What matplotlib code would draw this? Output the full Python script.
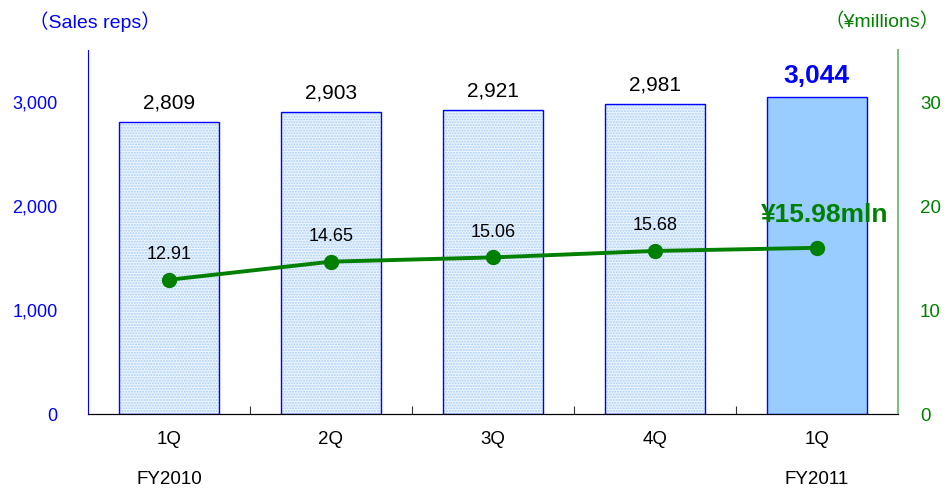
import matplotlib
matplotlib.use("Agg")
import matplotlib.pyplot as plt
import numpy as np

plt.rcParams["font.family"] = ["Liberation Sans", "Noto Sans CJK JP"]

quarters = ["1Q", "2Q", "3Q", "4Q", "1Q"]
fiscal_years = ["FY2010", "", "", "", "FY2011"]
sales_reps = [2809, 2903, 2921, 2981, 3044]
sales_per_rep = [12.91, 14.65, 15.06, 15.68, 15.98]

BLUE = "#0000FF"
GREEN = "#008000"

fig = plt.figure(figsize=(9.44, 4.88), dpi=100)
ax = fig.add_axes([0.0932, 0.1516, 0.8578, 0.7459])
ax2 = ax.twinx()

x = np.arange(len(quarters))
w = 0.62

# past quarters: dotted light-blue fill, latest quarter solid
old = x[:-1]
ax.bar(old, sales_reps[:-1], w, color="#EEF5FF", hatch="......",
       edgecolor="#A8CFF5", linewidth=0, zorder=2)
ax.bar(old, sales_reps[:-1], w, fill=False, edgecolor=BLUE,
       linewidth=1.0, zorder=3)
ax.bar(x[-1], sales_reps[-1], w, color="#99CCFF", edgecolor=BLUE,
       linewidth=1.0, zorder=3)

for i, v in enumerate(sales_reps):
    if i == len(sales_reps) - 1:
        ax.text(i, v + 90, f"{v:,}", ha="center", va="bottom",
                fontsize=19, fontweight="bold", color=BLUE)
    else:
        ax.text(i, v + 90, f"{v:,}", ha="center", va="bottom",
                fontsize=15, color="black")

ax.set_xlim(-0.5, len(quarters) - 0.5)
ax.set_ylim(0, 3500)
ax.set_yticks([0, 1000, 2000, 3000])
ax.set_yticklabels(["0", "1,000", "2,000", "3,000"])
ax.tick_params(axis="y", length=0, pad=22, labelsize=13, labelcolor=BLUE)
ax.set_xticks(x[:-1] + 0.5)
ax.set_xticklabels([])
ax.tick_params(axis="x", direction="in", length=6, color="#333333")
for i, (q, fy) in enumerate(zip(quarters, fiscal_years)):
    ax.text(i, -0.07, q, transform=ax.get_xaxis_transform(),
            ha="center", va="center", fontsize=13.5)
    if fy:
        ax.text(i, -0.18, fy, transform=ax.get_xaxis_transform(),
                ha="center", va="center", fontsize=13.5)

ax2.plot(x, sales_per_rep, color=GREEN, lw=2.8, marker="o", ms=10, zorder=5)
for i, v in enumerate(sales_per_rep):
    if i == len(sales_per_rep) - 1:
        ax2.text(i + 0.05, v + 2.0, f"¥{v:.2f}mln", ha="center", va="bottom",
                 fontsize=19, fontweight="bold", color=GREEN)
    else:
        ax2.text(i, v + 1.6, f"{v:.2f}", ha="center", va="bottom",
                 fontsize=13, color="black")
ax2.set_ylim(0, 35)
ax2.set_yticks([0, 10, 20, 30])
ax2.tick_params(axis="y", length=0, pad=16, labelsize=13.5, labelcolor=GREEN)

for a in (ax, ax2):
    a.spines["top"].set_visible(False)
    a.spines["bottom"].set_color("black")
ax.spines["left"].set_color(BLUE)
ax.spines["right"].set_visible(False)
ax2.spines["left"].set_visible(False)
ax2.spines["right"].set_color("#7FBF7F")
ax2.spines["right"].set_linewidth(1.5)
ax.set_zorder(ax2.get_zorder() - 1)
ax2.patch.set_visible(False)

fig.text(0.1, 0.955, "（Sales reps）", ha="center", va="center",
         fontsize=14, color=BLUE)
fig.text(0.995, 0.955, "（¥millions）", ha="right", va="center",
         fontsize=14, color=GREEN)

fig.savefig("out.png", dpi=100)
